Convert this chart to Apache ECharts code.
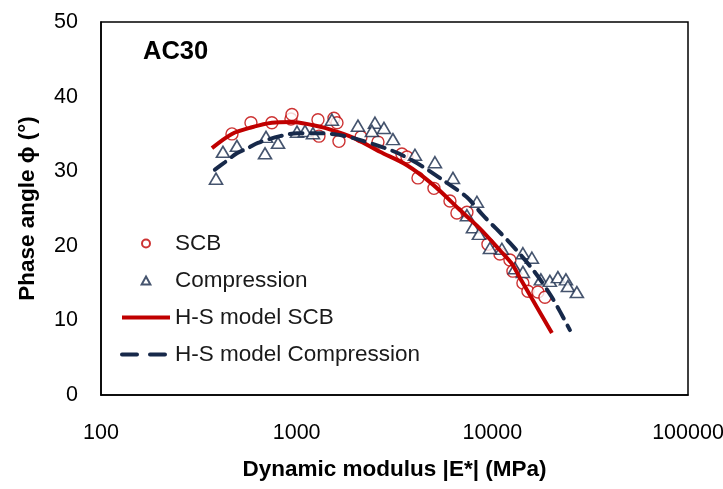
<!DOCTYPE html>
<html>
<head>
<meta charset="utf-8">
<script src="https://cdn.jsdelivr.net/npm/echarts@6/dist/echarts.min.js"></script>
<style>
  html, body { margin: 0; padding: 0; background: #fff; }
  #chart { width: 723px; height: 489px; }
</style>
</head>
<body>
<div id="chart"></div>
<script>
// SCB test results: dynamic modulus |E*| (MPa) and phase angle (deg)
const scbE = [467, 584, 747, 935, 946, 1285, 1300, 1551, 1607, 1645, 2131, 2603, 3451, 3661,
  4168, 5030, 6073, 6592, 7417, 9495, 10935, 12300, 12740, 14330, 15200, 17100, 18570];
const scbPhi = [35.0, 36.5, 36.5, 37.0, 37.6, 36.9, 34.7, 37.1, 36.5, 34.0, 34.6, 33.9, 32.3, 31.9,
  29.1, 27.7, 26.0, 24.4, 24.5, 20.2, 18.9, 18.1, 16.6, 15.0, 13.9, 13.8, 13.1];

// Compression test results
const compE = [387, 420, 495, 689, 697, 803, 1004, 1103, 1211, 1514, 2057, 2513, 2425, 2793,
  3105, 4022, 5089, 6291, 8340, 7417, 7960, 8540, 9720, 11190, 14330, 15930, 13050, 14330,
  17700, 19680, 21630, 23770, 24330, 27040];
const compPhi = [29.0, 32.6, 33.4, 32.4, 34.6, 33.8, 35.3, 35.4, 35.1, 36.9, 36.1, 36.5, 35.4, 35.8,
  34.3, 32.2, 31.2, 29.1, 25.9, 24.1, 22.5, 21.6, 19.7, 19.6, 19.0, 18.4, 17.0, 16.5,
  15.5, 15.3, 15.8, 15.5, 14.6, 13.8];

// Huet-Sayegh model curves
const hsScbE = [369, 467, 591, 747, 946, 1198, 1395, 1940, 2665, 3661, 4972, 6830, 8643,
  10935, 12590, 13840, 16120, 20160];
const hsScbPhi = [33.1, 35.0, 35.9, 36.5, 36.6, 36.2, 35.8, 34.5, 32.6, 30.8, 28.2, 24.8, 22.3,
  19.4, 17.6, 15.7, 12.7, 8.3];
const hsCompE = [382, 430, 495, 564, 634, 822, 1004, 1270, 1607, 2033, 2761, 3373, 4420, 5593,
  7417, 8950, 12300, 16120, 20160, 24920];
const hsCompPhi = [30.2, 31.2, 32.4, 33.1, 33.8, 34.7, 35.1, 35.1, 34.9, 34.3, 33.2, 32.3, 30.6, 28.8,
  26.5, 24.1, 20.4, 16.8, 13.1, 8.7];

// Axis ticks
const xTicks = [100, 1000, 10000, 100000];
const yTicks = [0, 10, 20, 30, 40, 50];

const pairs = (xs, ys) => xs.map((x, i) => [x, ys[i]]);

const FONT = '"Liberation Sans", Arial, sans-serif';
const RED = '#c00000';
const NAVY = '#17294a';
const TRIANGLE = 'path://M6,0L12,11L0,11Z';

const chart = echarts.init(document.getElementById('chart'), null, { renderer: 'canvas' });
chart.setOption({
  animation: false,
  backgroundColor: '#fff',
  textStyle: { fontFamily: FONT },
  title: {
    text: 'AC30',
    left: 138, top: 34,
    textStyle: { fontFamily: FONT, fontSize: 25.5, fontWeight: 'bold', color: '#000' }
  },
  legend: {
    orient: 'vertical',
    left: 120, top: 232,
    padding: 0,
    itemWidth: 48, itemHeight: 8,
    itemGap: 14,
    selectedMode: false,
    textStyle: { fontFamily: FONT, fontSize: 22.5, color: '#1a1a1a' },
    data: [
      { name: 'SCB' },
      { name: 'Compression', icon: TRIANGLE },
      { name: 'H-S model SCB', itemStyle: { opacity: 0 }, lineStyle: { width: 4 } },
      { name: 'H-S model Compression', itemStyle: { opacity: 0 },
        lineStyle: { width: 4, type: [15, 13], cap: 'round' } }
    ]
  },
  grid: {
    left: 101, right: 35, top: 22, bottom: 94,
    containLabel: false, outerBoundsMode: 'none',
    show: true, borderColor: '#000', borderWidth: 1.5, backgroundColor: 'transparent'
  },
  xAxis: {
    type: 'log', logBase: 10, min: xTicks[0], max: xTicks[xTicks.length - 1],
    name: 'Dynamic modulus |E*| (MPa)',
    nameLocation: 'middle', nameGap: 63,
    nameTextStyle: { fontFamily: FONT, fontSize: 22.5, fontWeight: 'bold', color: '#000' },
    axisLine: { show: true, lineStyle: { color: '#000', width: 1.5 } },
    axisTick: { show: false },
    splitLine: { show: false },
    axisLabel: {
      fontFamily: FONT, fontSize: 21.5, color: '#000', margin: 27,
      formatter: v => String(Math.round(v))
    }
  },
  yAxis: {
    type: 'value', min: yTicks[0], max: yTicks[yTicks.length - 1], interval: 10,
    name: 'Phase angle ϕ (°)',
    nameLocation: 'middle', nameGap: 62, nameRotate: 90,
    nameTextStyle: { fontFamily: FONT, fontSize: 22.5, fontWeight: 'bold', color: '#000' },
    axisLine: { show: true, lineStyle: { color: '#000', width: 1.5 } },
    axisTick: { show: false },
    splitLine: { show: false },
    axisLabel: { fontFamily: FONT, fontSize: 21.5, color: '#000', margin: 23 }
  },
  series: [
    {
      name: 'SCB', type: 'scatter', data: pairs(scbE, scbPhi),
      symbol: 'circle', symbolSize: 12,
      itemStyle: { color: '#fff', borderColor: RED, borderWidth: 1.4 }
    },
    {
      name: 'Compression', type: 'scatter', data: pairs(compE, compPhi),
      symbol: 'triangle', symbolSize: [13, 11],
      itemStyle: { color: '#fff', borderColor: NAVY, borderWidth: 1.6 }
    },
    {
      name: 'H-S model SCB', type: 'line', data: pairs(hsScbE, hsScbPhi),
      showSymbol: false, symbol: 'none', smooth: 0.3,
      lineStyle: { color: RED, width: 4 },
      itemStyle: { color: RED }
    },
    {
      name: 'H-S model Compression', type: 'line', data: pairs(hsCompE, hsCompPhi),
      showSymbol: false, symbol: 'none', smooth: 0.3,
      lineStyle: { color: NAVY, width: 4, type: [13, 8], cap: 'round' },
      itemStyle: { color: NAVY }
    }
  ]
});
</script>
</body>
</html>
